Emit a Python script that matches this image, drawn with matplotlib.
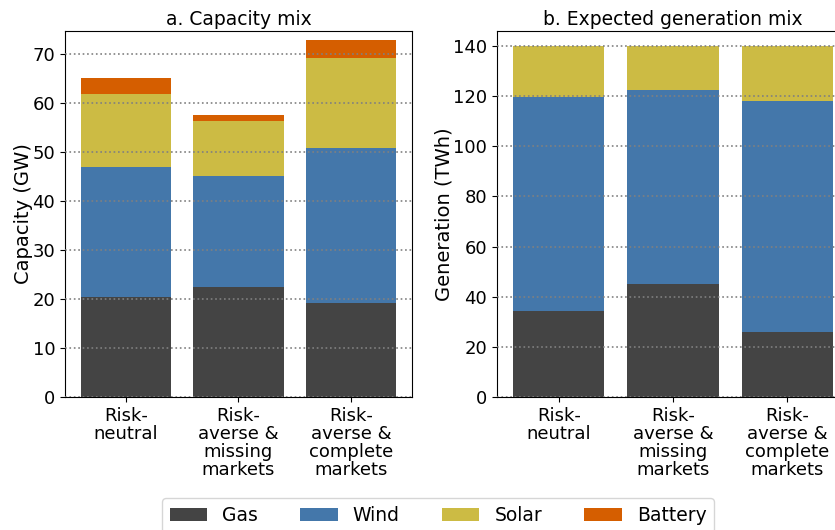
import numpy as np
import matplotlib.pyplot as plt

# scenarios and stacked values
scenarios = ["Risk-\nneutral", "Risk-\naverse &\nmissing\nmarkets", "Risk-\naverse &\ncomplete\nmarkets"]
techs = ["Gas", "Wind", "Solar", "Battery"]
colors = ["#444444", "#4477AA", "#CCBB44", "#D55E00"]

# capacity in GW
cap_gas = [20.4, 22.4, 19.2]
cap_wind = [26.5, 22.7, 31.6]
cap_solar = [14.9, 11.2, 18.4]
cap_battery = [3.3, 1.3, 3.7]

# generation in TWh
gen_gas = [34.3, 45.1, 25.9]
gen_wind = [85.4, 77.4, 92.2]
gen_solar = [20.3, 17.5, 21.9]

fig = plt.figure(figsize=(8.35, 5.3), dpi=100)
ax1 = fig.add_axes([65/835, 1-397/530, 347/835, 366/530])
ax2 = fig.add_axes([497/835, 1-397/530, 352/835, 366/530])

x = np.arange(len(scenarios))

def stack(ax, series, cols, labels):
    bottom = np.zeros(len(x))
    for vals, c, lab in zip(series, cols, labels):
        ax.bar(x, vals, 0.8, bottom=bottom, color=c, label=lab)
        bottom = bottom + np.array(vals)

stack(ax1, [cap_gas, cap_wind, cap_solar, cap_battery], colors, techs)
stack(ax2, [gen_gas, gen_wind, gen_solar], colors[:3], techs[:3])

for ax in (ax1, ax2):
    ax.set_axisbelow(False)
    ax.yaxis.grid(True, linestyle=":", color="gray", linewidth=1.2)
    ax.set_xticks(x)
    ax.set_xticklabels(scenarios, fontsize=13, linespacing=1.0)
    ax.tick_params(axis="y", labelsize=13)

ax1.set_ylim(0, 74.7)
ax1.set_yticks(range(0, 71, 10))
ax1.set_ylabel("Capacity (GW)", fontsize=14, labelpad=0)
ax1.set_title("a. Capacity mix", fontsize=13.5, pad=4)

ax2.set_ylim(0, 146)
ax2.set_yticks(range(0, 141, 20))
ax2.set_ylabel("Generation (TWh)", fontsize=14, labelpad=0)
ax2.set_title("b. Expected generation mix", fontsize=13.5, pad=4)

h, l = ax1.get_legend_handles_labels()
fig.legend(h, l, loc="upper center", bbox_to_anchor=(438/835, 1-489/530), ncol=4,
           fontsize=13.5, handlelength=2.0, columnspacing=2.25, handletextpad=0.8)

plt.savefig("out.png", dpi=100)
